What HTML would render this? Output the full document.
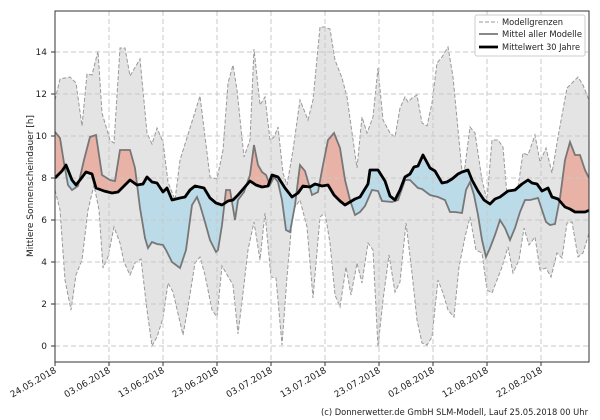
<!DOCTYPE html>
<html><head><meta charset="utf-8"><style>
html,body{margin:0;padding:0;background:#fff;width:600px;height:420px;overflow:hidden}
svg{display:block;font-family:"DejaVu Sans","Liberation Sans",sans-serif}
</style></head><body>
<svg id="s" width="600" height="420" viewBox="0 0 600 420" xmlns="http://www.w3.org/2000/svg">
<defs>
<clipPath id="plot"><rect x="55" y="11" width="534" height="351"/></clipPath>
<clipPath id="above"><polygon id="abv"/></clipPath>
<clipPath id="below"><polygon id="blw"/></clipPath>
</defs>
<g clip-path="url(#plot)">
<polygon id="gray" fill="#e4e4e4" stroke="none"/>
<polyline id="up" fill="none" stroke="#999" stroke-width="1" stroke-dasharray="4,2"/>
<polyline id="lo" fill="none" stroke="#999" stroke-width="1" stroke-dasharray="4,2"/>
<polygon id="red" fill="#e8b3a6" clip-path="url(#above)"/>
<polygon id="blue" fill="#bcdbe8" clip-path="url(#below)"/>
<g id="grid" stroke="#c8c8c8" stroke-width="1" stroke-dasharray="5,3"></g>
<polyline id="mm" fill="none" stroke="#777" stroke-width="1.8"/>
<polyline id="bk" fill="none" stroke="#000" stroke-width="2.8" stroke-linejoin="round"/>
</g>
<rect x="55" y="11" width="534" height="351" fill="none" stroke="#333" stroke-width="1"/>
<g id="ticks" font-size="9" fill="#222"></g>
<text transform="translate(33,186) rotate(-90)" font-size="9" text-anchor="middle" fill="#222">Mittlere Sonnenscheindauer [h]</text>
<g>
<rect x="475" y="15" width="110" height="41" fill="#fff" stroke="#ccc" rx="2"/>
<line x1="479" y1="22" x2="498" y2="22" stroke="#999" stroke-dasharray="4,2"/>
<text x="502" y="25" font-size="8.5" fill="#222" textLength="61" lengthAdjust="spacingAndGlyphs">Modellgrenzen</text>
<line x1="479" y1="34" x2="498" y2="34" stroke="#777" stroke-width="1.8"/>
<text x="502" y="37" font-size="8.5" fill="#222" textLength="80" lengthAdjust="spacingAndGlyphs">Mittel aller Modelle</text>
<line x1="479" y1="47" x2="498" y2="47" stroke="#000" stroke-width="2.8"/>
<text x="502" y="50" font-size="8.5" fill="#222" textLength="78" lengthAdjust="spacingAndGlyphs">Mittelwert 30 Jahre</text>
</g>
<text x="321" y="415" font-size="9" fill="#222" textLength="267" lengthAdjust="spacingAndGlyphs">(c) Donnerwetter.de GmbH SLM-Modell, Lauf 25.05.2018 00 Uhr</text>
</svg>
<script>
const up=[[55,100],[60,79],[70,77],[76,83],[82,126],[87,74],[92,75],[98,51],[102,113],[110,140],[114,143],[120,48],[125,48],[130,76],[140,59],[147,133],[152,144],[157,128],[163,142],[168,182],[175,200],[180,160],[200,96],[210,177],[217,179],[223,150],[228,83],[233,65],[237,90],[244,157],[250,140],[254,49],[260,105],[265,97],[270,140],[274,137],[278,127],[283,173],[287,185],[293,150],[300,100],[308,120],[313,100],[320,27],[325,27],[330,29],[335,60],[342,78],[347,97],[357,168],[362,117],[367,133],[373,117],[378,68],[383,120],[390,133],[395,137],[400,108],[405,97],[408,102],[412,98],[417,95],[422,123],[427,126],[432,103],[437,63],[442,57],[448,47],[453,77],[463,182],[470,127],[475,133],[482,180],[487,200],[492,140],[498,140],[503,147],[508,207],[513,203],[518,187],[523,153],[528,155],[535,135],[540,162],[546,148],[552,173],[558,137],[567,88],[578,77],[583,85],[590,103]];
const lo=[[55,190],[60,210],[65,280],[71,310],[76,275],[82,260],[88,210],[94,185],[99,210],[103,268],[108,257],[114,227],[120,243],[124,262],[130,275],[135,263],[141,259],[147,310],[152,346],[157,337],[163,318],[168,283],[173,292],[183,335],[188,307],[195,263],[200,257],[205,275],[212,310],[217,317],[222,266],[233,285],[238,334],[243,293],[248,250],[254,222],[260,260],[265,213],[271,277],[276,278],[282,345],[287,277],[293,210],[300,200],[307,227],[313,298],[320,217],[325,213],[330,243],[335,295],[340,307],[346,267],[351,295],[357,263],[362,283],[368,243],[373,250],[378,347],[383,300],[389,255],[395,292],[400,282],[406,223],[412,273],[417,320],[422,343],[427,345],[432,337],[438,280],[443,293],[448,310],[454,317],[459,267],[465,237],[470,217],[476,250],[482,253],[487,290],[492,293],[497,280],[502,267],[508,247],[513,273],[519,260],[524,228],[529,245],[535,237],[540,270],[546,268],[551,277],[557,253],[562,258],[567,223],[572,222],[578,257],[583,253],[590,230]];
const bk=[[55,178],[62,171],[66,165],[72,180],[76,185],[80,180],[86,172],[92,174],[96,188],[104,191],[112,193],[118,192],[125,185],[130,180],[137,185],[143,184],[147,177],[152,182],[157,183],[163,192],[167,188],[172,200],[180,198],[185,197],[190,190],[195,186],[204,188],[210,198],[216,203],[222,205],[228,201],[233,200],[238,195],[244,188],[250,181],[256,185],[262,187],[268,186],[272,175],[278,177],[285,188],[292,197],[298,193],[303,186],[310,187],[315,184],[322,186],[328,185],[334,195],[340,201],[345,205],[355,199],[360,197],[368,184],[370,170],[378,170],[385,181],[390,196],[395,200],[400,190],[405,177],[410,174],[414,167],[418,166],[423,155],[430,168],[435,171],[442,183],[447,182],[452,179],[458,174],[462,172],[468,170],[472,180],[478,191],[484,200],[490,204],[495,199],[500,197],[508,191],[515,190],[522,184],[528,180],[532,183],[537,184],[542,191],[548,188],[552,197],[558,199],[565,207],[570,209],[575,212],[580,212],[585,212],[590,210]];
const mm=[[55,132],[60,138],[64,163],[68,185],[72,190],[78,186],[84,160],[90,137],[96,135],[102,175],[110,180],[115,181],[120,150],[125,150],[130,150],[135,168],[140,208],[145,238],[148,248],[152,242],[157,244],[163,245],[166,250],[172,262],[180,268],[186,250],[192,205],[197,197],[200,205],[205,222],[210,240],[216,252],[218,250],[222,225],[226,190],[230,190],[235,220],[238,200],[244,192],[250,175],[254,145],[258,165],[262,172],[266,175],[270,185],[274,177],[278,182],[282,200],[286,230],[290,232],[295,205],[300,165],[305,171],[312,195],[318,192],[322,170],[328,140],[334,133],[340,148],[345,180],[350,200],[355,215],[360,212],[365,206],[372,190],[378,191],[382,201],[392,202],[398,200],[405,180],[410,180],[418,188],[422,189],[430,195],[438,197],[445,200],[450,212],[455,212],[462,213],[466,190],[470,182],[474,195],[478,215],[482,240],[486,257],[490,248],[495,235],[500,220],[505,228],[510,240],[515,228],[520,212],[525,200],[530,200],[538,198],[542,210],[546,222],[550,225],[555,224],[560,198],[565,160],[570,142],[575,155],[580,155],[585,170],[590,180]];
const P=a=>a.map(p=>p.join(',')).join(' ');
const R=a=>a.slice().reverse();
const $=id=>document.getElementById(id);
$('gray').setAttribute('points',P(up.concat(R(lo))));
$('up').setAttribute('points',P(up));
$('lo').setAttribute('points',P(lo));
$('mm').setAttribute('points',P(mm));
$('bk').setAttribute('points',P(bk));
const band=P(mm.concat(R(bk)));
$('red').setAttribute('points',band);$('blue').setAttribute('points',band);
$('abv').setAttribute('points',P(bk.concat([[590,0],[55,0]])));
$('blw').setAttribute('points',P(bk.concat([[590,420],[55,420]])));
const NS='http://www.w3.org/2000/svg';
const g=$('grid'),t=$('ticks');
function el(p,tag,at,txt){const e=document.createElementNS(NS,tag);for(const k in at)e.setAttribute(k,at[k]);if(txt)e.textContent=txt;p.appendChild(e);return e;}
for(let v=0;v<=14;v+=2){const y=346-21*v;el(g,'line',{x1:55,x2:589,y1:y,y2:y});
el(t,'line',{x1:51,x2:55,y1:y,y2:y,stroke:'#333'});el(t,'text',{x:47,y:y+3,'text-anchor':'end'},String(v));}
const d=['24.05.2018','03.06.2018','13.06.2018','23.06.2018','03.07.2018','13.07.2018','23.07.2018','02.08.2018','12.08.2018','22.08.2018'];
d.forEach((s,i)=>{const x=55+54*i;el(g,'line',{x1:x,x2:x,y1:11,y2:362});
el(t,'line',{x1:x,x2:x,y1:362,y2:366,stroke:'#333'});
el(t,'text',{x:x+2,y:372,'text-anchor':'end',transform:`rotate(-30 ${x+2} 372)`},s);});
</script>
</body></html>
